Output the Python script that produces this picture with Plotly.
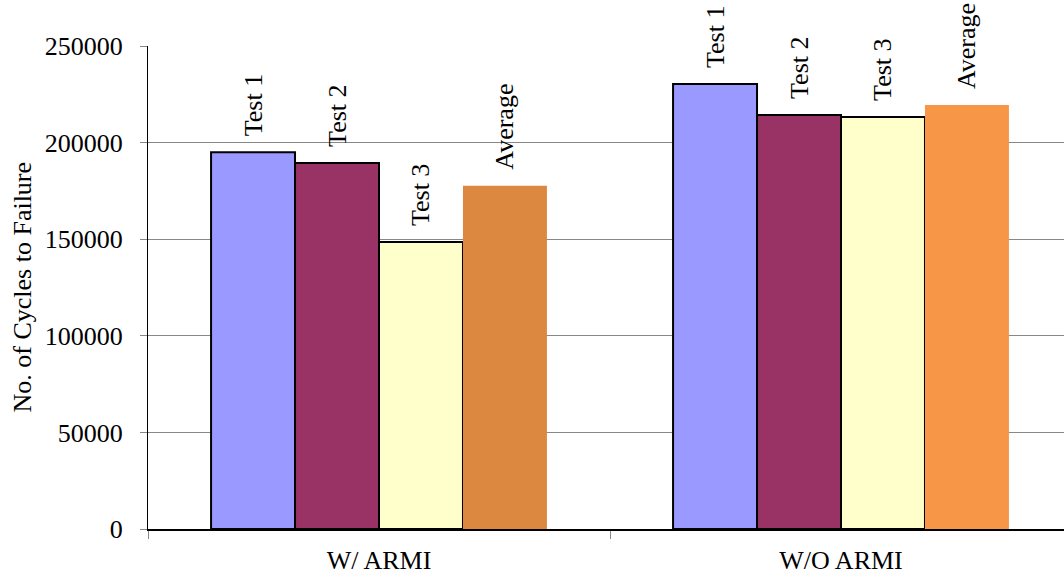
import plotly.graph_objects as go

categories = ["W/ ARMI", "W/O ARMI"]
series_names = ["Test 1", "Test 2", "Test 3", "Average"]
test1 = [195000, 230300]
test2 = [189500, 214300]
test3 = [148500, 213300]
average = [177700, 219400]
y_ticks = [0, 50000, 100000, 150000, 200000, 250000]

values = [test1, test2, test3, average]
colors = [
    ["#9999FF", "#9999FF"],
    ["#993366", "#993366"],
    ["#FFFFCC", "#FFFFCC"],
    ["#DD8840", "#F79646"],
]
line_widths = [2, 2, 2, 0]

FONT = "Liberation Serif, Times New Roman, serif"
FS = 26

fig = go.Figure()
for name, vals, col, lw in zip(series_names, values, colors, line_widths):
    fig.add_trace(go.Bar(
        name=name, x=categories, y=vals,
        marker=dict(color=col, line=dict(color="black", width=lw)),
        text=["\u00a0\u00a0" + name] * len(vals), textposition="outside", textangle=-90,
        textfont=dict(family=FONT, size=FS, color="black"),
        constraintext="none",
        cliponaxis=False,
    ))

W, H = 1064, 575
L, R, T, B = 148, 0, 46, 46
plot_w = W - L - R
cat_w = 462

fig.update_layout(
    width=W, height=H,
    margin=dict(l=L, r=R, t=T, b=B, pad=0),
    paper_bgcolor="white", plot_bgcolor="white",
    barmode="group", bargap=0.273, bargroupgap=0,
    showlegend=False,
    font=dict(family=FONT, size=FS, color="black"),
    uniformtext=dict(mode=False),
    xaxis=dict(
        type="category",
        range=[-0.5, -0.5 + plot_w / cat_w],
        showline=True, linecolor="black", linewidth=2,
        ticks="outside", tickson="boundaries", ticklen=8, tickcolor="#888888", tickwidth=1,
        showgrid=False,
        ticklabelstandoff=7,
        tickfont=dict(family=FONT, size=FS, color="black"),
    ),
    yaxis=dict(
        range=[0, 250000], tickvals=y_ticks, ticktext=[str(v) for v in y_ticks],
        showline=True, linecolor="black", linewidth=1,
        ticks="outside", ticklen=7, tickcolor="#888888", tickwidth=1,
        showgrid=True, gridcolor="#888888", gridwidth=1,
        zeroline=False,
        ticklabelstandoff=12,
        tickfont=dict(family=FONT, size=FS, color="black"),
    ),
    annotations=[dict(
        text="No. of Cycles to Failure", textangle=-90,
        xref="paper", yref="paper",
        x=(22 - L) / plot_w, y=0.5, xanchor="center", yanchor="middle",
        showarrow=False, font=dict(family=FONT, size=FS, color="black"),
    )],
)

fig.write_html("out.html", config={"responsive": False, "displayModeBar": False})
with open("out.html", "r", encoding="utf-8") as f:
    html = f.read()
html = html.replace("<head>", "<head><style>html,body{margin:0;padding:0;overflow:hidden}</style>", 1)
with open("out.html", "w", encoding="utf-8") as f:
    f.write(html)
